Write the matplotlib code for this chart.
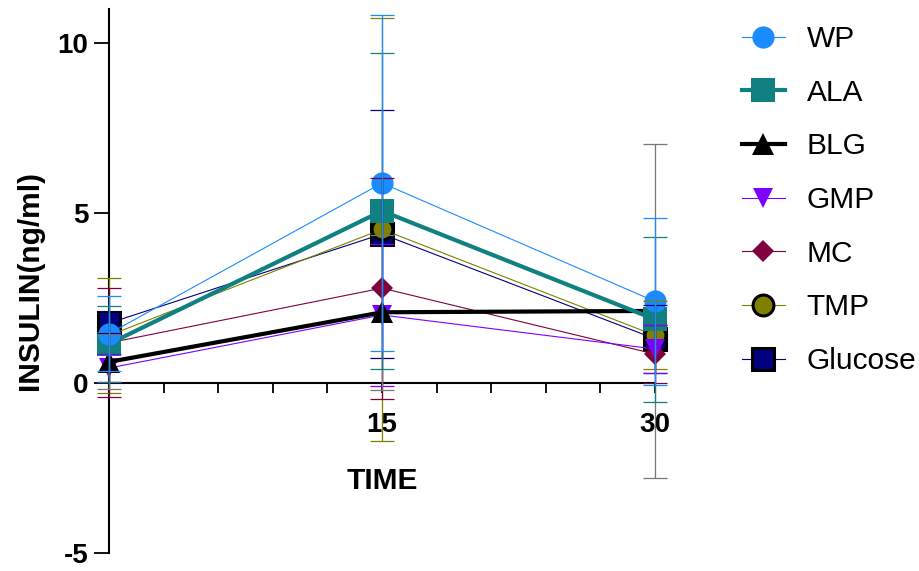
import matplotlib
matplotlib.use("Agg")
import matplotlib.pyplot as plt
from matplotlib.ticker import FixedLocator, MultipleLocator

plt.rcParams['font.family'] = ['Liberation Sans', 'DejaVu Sans']
plt.rcParams['axes.unicode_minus'] = False

# Insulin response over time (mean and error)
time = [0, 15, 30]
groups = ["WP", "ALA", "BLG", "GMP", "MC", "TMP", "Glucose"]

wp_mean = [1.45, 5.88, 2.40]
wp_err = [1.10, 4.95, 2.45]
ala_mean = [1.15, 5.06, 1.87]
ala_err = [1.12, 4.65, 2.43]
blg_mean = [0.62, 2.08, 2.12]
blg_err = [0.80, 2.28, 4.91]
gmp_mean = [0.44, 2.00, 1.00]
gmp_err = [0.40, 2.09, 0.71]
mc_mean = [1.18, 2.79, 0.85]
mc_err = [1.60, 3.25, 0.85]
tmp_mean = [1.40, 4.52, 1.40]
tmp_err = [1.70, 6.22, 1.00]
glucose_mean = [1.76, 4.38, 1.30]
glucose_err = [0.30, 3.64, 1.00]

means = [wp_mean, ala_mean, blg_mean, gmp_mean, mc_mean, tmp_mean, glucose_mean]
errs = [wp_err, ala_err, blg_err, gmp_err, mc_err, tmp_err, glucose_err]

styles = {
    "WP":      dict(color="#1a8cff", marker="o", ms=16, lw=0.8, mec="#1a8cff", mew=0),
    "ALA":     dict(color="#108080", marker="s", ms=17, lw=3.0, mec="#108080", mew=0),
    "BLG":     dict(color="#000000", marker="^", ms=16, lw=3.0, mec="#000000", mew=0),
    "GMP":     dict(color="#8000ff", marker="v", ms=15, lw=0.8, mec="#8000ff", mew=0),
    "MC":      dict(color="#800040", marker="D", ms=11.5, lw=0.8, mec="#800040", mew=0),
    "TMP":     dict(color="#808000", marker="o", ms=15, lw=0.8, mec="#000000", mew=2.2),
    "Glucose": dict(color="#000080", marker="s", ms=16, lw=0.8, mec="#000000", mew=2.2),
}

W, H = 920, 571
fig = plt.figure(figsize=(W / 100, H / 100), dpi=100)
ax = fig.add_axes([109 / W, (H - 553) / H, (655 - 109) / W, (553 - 9) / H])

handles = {}
n = len(groups)
for i in reversed(range(n)):
    g = groups[i]
    st = styles[g]
    z = 3 + (n - i) * 0.1
    line, = ax.plot(time, means[i], color=st["color"], lw=st["lw"],
                    marker=st["marker"], markersize=st["ms"],
                    markerfacecolor=st["color"], markeredgecolor=st["mec"],
                    markeredgewidth=st["mew"], zorder=z, clip_on=False)
    handles[g] = line
    ecol = "#777777" if g == "BLG" else st["color"]
    ax.errorbar(time, means[i], yerr=errs[i], fmt="none", ecolor=ecol,
                elinewidth=0.9, capsize=8.3, capthick=0.9,
                zorder=5 + (n - i) * 0.1, clip_on=False)

ax.set_xlim(0, 30)
ax.set_ylim(-5, 11)

for s in ["top", "right"]:
    ax.spines[s].set_visible(False)
ax.spines["bottom"].set_position(("data", 0))
ax.spines["left"].set_bounds(-5, 11)
for s in ["left", "bottom"]:
    ax.spines[s].set_linewidth(1.5)

ax.yaxis.set_major_locator(FixedLocator([-5, 0, 5, 10]))
ax.xaxis.set_major_locator(FixedLocator([15, 30]))
ax.xaxis.set_minor_locator(MultipleLocator(3))
ax.tick_params(axis="y", which="major", direction="out", length=11, width=1.3,
               pad=4, labelsize=20)
ax.tick_params(axis="x", which="both", direction="out", length=7, width=1.3,
               pad=14, labelsize=20)
for lab in ax.get_xticklabels() + ax.get_yticklabels():
    lab.set_fontweight("bold")

ax.set_xlabel("TIME", fontsize=21.5, fontweight="bold")
ax.xaxis.set_label_coords(0.5, (553 - 481) / 544)
ax.xaxis.label.set_va("center")
ax.set_ylabel("INSULIN(ng/ml)", fontsize=21.5, fontweight="bold")
ax.yaxis.set_label_coords((30 - 109) / 546, (553 - 280) / 544)
ax.yaxis.label.set_va("center")

fig.legend([handles[g] for g in groups], groups, loc="upper left",
           bbox_to_anchor=(742 / W, 1 - 25 / H), frameon=False,
           fontsize=21.5, handlelength=1.43, handletextpad=0.73,
           labelspacing=0.86, borderpad=0, borderaxespad=0, numpoints=1)

fig.savefig("out.png", dpi=100)
